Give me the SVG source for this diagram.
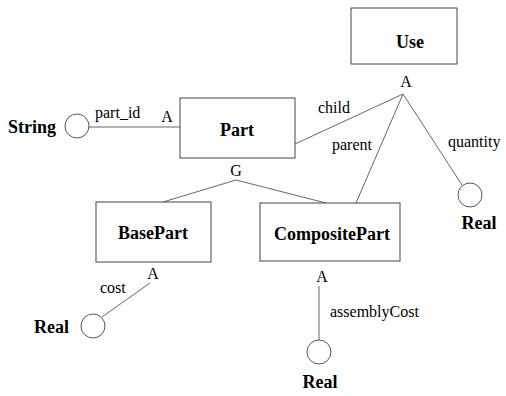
<svg xmlns="http://www.w3.org/2000/svg" width="506" height="396" viewBox="0 0 506 396">
<style>
.box{fill:#fff;stroke:#444;stroke-width:1}
.circ{fill:#fff;stroke:#555;stroke-width:1}
.ln{stroke:#666;stroke-width:1;fill:none}
.nm{font-family:'Liberation Serif','Times New Roman','DejaVu Serif',serif;font-weight:bold;font-size:18px;fill:#000}
.lb{font-family:'Liberation Serif','Times New Roman','DejaVu Serif',serif;font-size:16px;fill:#000}
</style>
<rect width="506" height="396" fill="#fff"/>
<g id="connectors">
<line class="ln" x1="89" y1="127" x2="180" y2="127"/>
<line class="ln" x1="236" y1="180" x2="163" y2="202"/>
<line class="ln" x1="236" y1="180" x2="326" y2="203"/>
<line class="ln" x1="403" y1="94" x2="295" y2="144"/>
<line class="ln" x1="403" y1="94" x2="356" y2="203"/>
<line class="ln" x1="403" y1="94" x2="462" y2="185"/>
<line class="ln" x1="150" y1="283" x2="102" y2="317"/>
<line class="ln" x1="319" y1="286" x2="319" y2="340"/>
<text class="lb" x="95" y="118">part_id</text>
<text class="lb" x="167" y="122" text-anchor="middle">A</text>
<text class="lb" x="236" y="176" text-anchor="middle">G</text>
<text class="lb" x="406" y="87" text-anchor="middle">A</text>
<text class="lb" x="318" y="113">child</text>
<text class="lb" x="332" y="150">parent</text>
<text class="lb" x="448" y="147">quantity</text>
<text class="lb" x="153" y="279" text-anchor="middle">A</text>
<text class="lb" x="100" y="293">cost</text>
<text class="lb" x="322" y="282" text-anchor="middle">A</text>
<text class="lb" x="330" y="317">assemblyCost</text>
</g>
<g id="Use">
<rect class="box" x="351" y="8" width="106" height="56"/>
<text class="nm" x="410" y="48" text-anchor="middle">Use</text>
</g>
<g id="Part">
<rect class="box" x="180" y="98" width="115" height="60"/>
<text class="nm" x="237" y="136" text-anchor="middle">Part</text>
</g>
<g id="BasePart">
<rect class="box" x="96" y="202" width="115" height="60"/>
<text class="nm" x="153" y="239" text-anchor="middle">BasePart</text>
</g>
<g id="CompositePart">
<rect class="box" x="260" y="203" width="140" height="58"/>
<text class="nm" x="332" y="240" text-anchor="middle">CompositePart</text>
</g>
<g id="String">
<circle class="circ" cx="77" cy="126" r="12"/>
<text class="nm" x="8" y="133">String</text>
</g>
<g id="Real_quantity">
<circle class="circ" cx="470" cy="195" r="12"/>
<text class="nm" x="479" y="229" text-anchor="middle">Real</text>
</g>
<g id="Real_cost">
<circle class="circ" cx="93" cy="326" r="12"/>
<text class="nm" x="34" y="333">Real</text>
</g>
<g id="Real_assemblyCost">
<circle class="circ" cx="319" cy="352" r="12"/>
<text class="nm" x="320" y="388" text-anchor="middle">Real</text>
</g>
</svg>
